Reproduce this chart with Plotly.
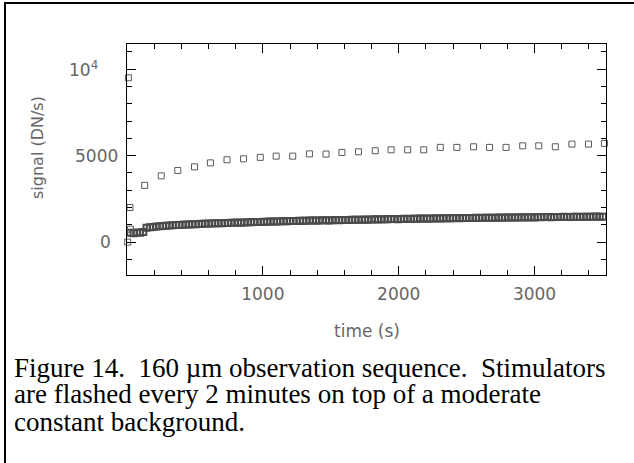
import plotly.graph_objects as go

# ---------------- data ----------------
# stimulator flashes (sparse upper sequence)
flash_time = [10, 22, 130, 252, 374, 497, 614, 736, 858, 981, 1098, 1220, 1343,
              1465, 1582, 1704, 1827, 1944, 2066, 2184, 2306, 2428, 2551, 2668,
              2790, 2913, 3031, 3153, 3275, 3397, 3514]
flash_signal = [9500, 2000, 3280, 3830, 4140, 4350, 4580, 4760, 4815, 4900, 4970,
                4970, 5100, 5090, 5185, 5220, 5280, 5335, 5335, 5335, 5475, 5475,
                5510, 5475, 5475, 5565, 5565, 5510, 5665, 5665, 5705]

# background samples (dense lower sequence)
early_time = [5, 25]
early_signal = [0, 750]
bg_time = list(range(24, 3505, 24))
bg_signal = [
    540, 520, 560, 545, 580, 830, 860, 880, 900, 915,
    930, 945, 960, 975, 985, 990, 1005, 1015, 1020, 1030,
    1040, 1050, 1055, 1060, 1075, 1070, 1085, 1090, 1095, 1100,
    1110, 1115, 1120, 1130, 1125, 1140, 1150, 1145, 1160, 1165,
    1170, 1175, 1180, 1190, 1185, 1195, 1200, 1210, 1205, 1215,
    1220, 1225, 1230, 1240, 1230, 1245, 1250, 1255, 1245, 1260,
    1265, 1255, 1270, 1275, 1265, 1280, 1285, 1275, 1290, 1295,
    1290, 1300, 1305, 1295, 1310, 1315, 1305, 1320, 1325, 1315,
    1330, 1335, 1325, 1340, 1345, 1335, 1350, 1355, 1345, 1360,
    1360, 1355, 1370, 1365, 1375, 1370, 1380, 1375, 1385, 1380,
    1390, 1385, 1395, 1390, 1400, 1395, 1405, 1400, 1410, 1405,
    1410, 1415, 1405, 1420, 1415, 1425, 1420, 1430, 1425, 1420,
    1435, 1430, 1440, 1435, 1430, 1445, 1440, 1450, 1445, 1440,
    1450, 1455, 1445, 1460, 1455, 1450, 1465, 1460, 1455, 1465,
    1470, 1460, 1465, 1475, 1470, 1465,
]

x_tickvals = [1000, 2000, 3000]
x_ticktext = ["1000", "2000", "3000"]
y_tickvals = [0, 5000, 10000]
y_ticktext = ["0", "5000", "10<sup>4</sup>"]

x_title = "time (s)"
y_title = "signal (DN/s)"
caption_lines = [
    "Figure 14.\u00a0\u00a0160 \u00b5m observation sequence.\u00a0\u00a0Stimulators",
    "are flashed every 2 minutes on top of a moderate",
    "constant background.",
]

# ---------------- layout geometry ----------------
W, H = 634, 463
L, R, T, B = 127, 606, 44, 275   # plot area in pixels


def px(x):
    return (x - L) / (R - L)


def py(y):
    return (B - y) / (B - T)


grey_text = "#666666"
tick_font = dict(family="DejaVu Sans", size=17, color=grey_text)

fig = go.Figure()
marker = dict(symbol="square-open", size=6, color="#5a5a5a", line=dict(width=1, color="#5a5a5a"))
dense_marker = dict(symbol="square-open", size=6, color="#4a4a4a", line=dict(width=2, color="#4a4a4a"))
fig.add_trace(go.Scatter(x=bg_time, y=bg_signal, mode="markers", marker=dense_marker,
                         showlegend=False, cliponaxis=True))
fig.add_trace(go.Scatter(x=early_time, y=early_signal, mode="markers", marker=marker,
                         showlegend=False, cliponaxis=False))
fig.add_trace(go.Scatter(x=flash_time, y=flash_signal, mode="markers", marker=marker,
                         showlegend=False, cliponaxis=False))

axis_common = dict(
    showgrid=False, zeroline=False, showline=True, linecolor="black", linewidth=1,
    mirror="allticks", ticks="inside", ticklen=9, tickwidth=1, tickcolor="black",
    tickfont=tick_font,
)
fig.update_xaxes(range=[0, 3526], tickmode="array", tickvals=x_tickvals, ticktext=x_ticktext,
                 minor=dict(dtick=200, tick0=0, ticks="inside", ticklen=5, tickcolor="black"),
                 ticklabelstandoff=4, **axis_common)
fig.update_yaxes(range=[-1900, 11450], tickmode="array", tickvals=y_tickvals, ticktext=y_ticktext,
                 minor=dict(dtick=1000, tick0=0, ticks="inside", ticklen=5, tickcolor="black"),
                 showticklabels=False, **axis_common)

annotations = [
    dict(text=x_title, xref="paper", yref="paper", x=px(366.5), y=py(331),
         xanchor="center", yanchor="middle", showarrow=False,
         font=dict(family="DejaVu Sans", size=17, color=grey_text)),
    dict(text=y_title, xref="paper", yref="paper", x=px(37), y=py(148), textangle=-90,
         xanchor="center", yanchor="middle", showarrow=False,
         font=dict(family="DejaVu Sans", size=16, color=grey_text)),
]
# y tick labels (right edges follow the reference's label placement)
ylabel_right = [113, 120, 100]
for v, t, r in zip(y_tickvals, y_ticktext, ylabel_right):
    annotations.append(dict(text=t, xref="paper", yref="y", x=px(r), y=v,
                            xanchor="right", yanchor="middle", showarrow=False,
                            font=tick_font))
for i, line in enumerate(caption_lines):
    annotations.append(dict(
        text=line, xref="paper", yref="paper", x=px(12), y=py(367.5 + 27 * i),
        xanchor="left", yanchor="middle", showarrow=False,
        font=dict(family="Liberation Serif", size=27, color="black")))

shapes = [
    dict(type="line", xref="paper", yref="paper", x0=px(5), x1=px(5), y0=py(2), y1=py(H + 5),
         line=dict(color="black", width=2)),
    dict(type="line", xref="paper", yref="paper", x0=px(4), x1=px(W + 5), y0=py(3), y1=py(3),
         line=dict(color="black", width=2)),
]

fig.update_layout(
    width=W, height=H, autosize=False,
    margin=dict(l=L, r=W - R, t=T, b=H - B, pad=0),
    paper_bgcolor="white", plot_bgcolor="white",
    annotations=annotations, shapes=shapes,
)

fig.write_html("out.html", config={"displayModeBar": False},
               post_script="document.body.style.margin='0px';")
